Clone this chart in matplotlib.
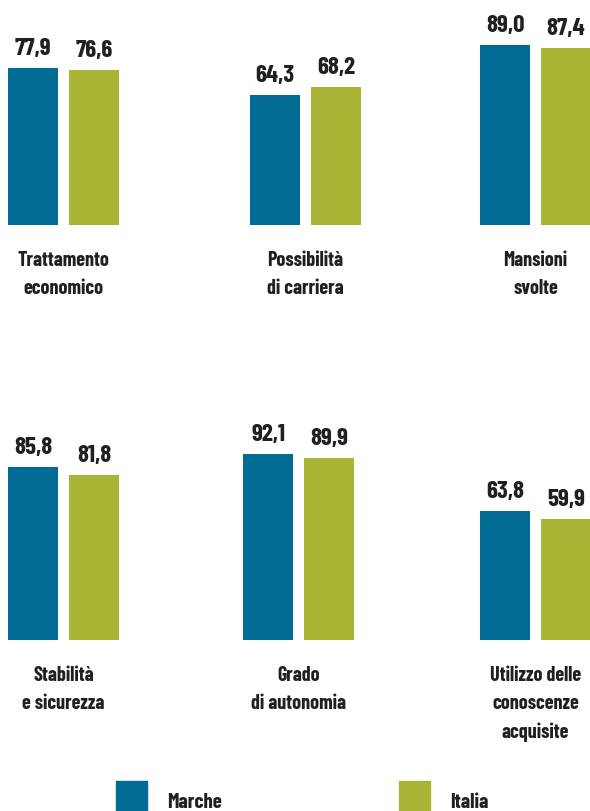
import matplotlib.pyplot as plt
from matplotlib.patches import Rectangle

categories = ["Trattamento\neconomico", "Possibilità\ndi carriera", "Mansioni\nsvolte",
              "Stabilità\ne sicurezza", "Grado\ndi autonomia", "Utilizzo delle\nconoscenze\nacquisite"]
marche = [77.9, 64.3, 89.0, 85.8, 92.1, 63.8]
italia = [76.6, 68.2, 87.4, 81.8, 89.9, 59.9]
series = ["Marche", "Italia"]

BLUE = "#006b94"
GREEN = "#a9b534"
TXT = "#231f20"
W, H = 590, 811

plt.rcParams['font.family'] = ['Barlow Condensed', 'Roboto', 'DejaVu Sans']

fig = plt.figure(figsize=(W / 100, H / 100), dpi=100)

# panel positions in pixels: (left, bar bottom)
lefts = [8, 250, 480, 8, 243, 480]
bottoms = [225, 225, 225, 640, 640, 640]
px_per_unit = 2.02

for k in range(6):
    left, bottom = lefts[k], bottoms[k]
    width = 111
    height = 100 * px_per_unit
    ax = fig.add_axes([left / W, 1 - bottom / H, width / W, height / H])
    vals = [marche[k], italia[k]]
    ax.bar([0, 1], vals, width=0.82, color=[BLUE, GREEN])
    ax.set_xlim(-0.41, 1.41)
    ax.set_ylim(0, 100)
    ax.axis('off')
    for i, v in enumerate(vals):
        ax.annotate(f"{v:.1f}".replace('.', ','), (i, v), xytext=(0, 13),
                    textcoords='offset pixels', ha='center', va='baseline',
                    fontsize=18, fontweight='bold', color=TXT)
    ax.text(0.5, -26 / height, categories[k], transform=ax.transAxes,
            ha='center', va='top', fontsize=14.5, fontweight='bold',
            color=TXT, linespacing=1.6, clip_on=False)

# legend
leg_x = [116, 399]
leg_colors = [BLUE, GREEN]
for name, x, c in zip(series, leg_x, leg_colors):
    fig.patches.append(Rectangle((x / W, 1 - 811 / H), 31 / W, 30 / H,
                                 transform=fig.transFigure, color=c))
    fig.text((x + 51) / W, 1 - 803 / H, name, ha='left', va='center',
             fontsize=15, fontweight='bold', color=TXT)

fig.savefig("out.png", dpi=100)
